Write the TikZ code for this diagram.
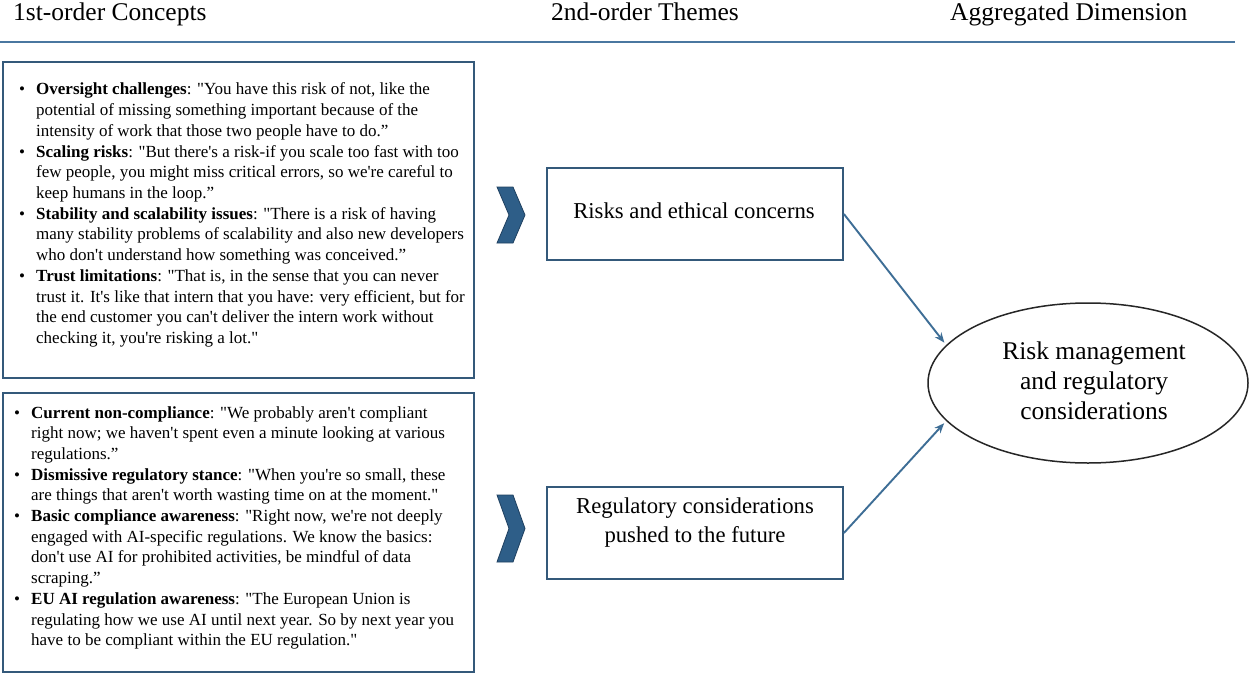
\documentclass[tikz,border=0pt]{standalone}
\usepackage{fontspec}
\newfontfamily\serif{Liberation Serif}
\usetikzlibrary{arrows.meta,shapes.geometric}

\definecolor{rulecol}{HTML}{4A77A0}
\definecolor{framecol}{HTML}{34597A}
\definecolor{chevcol}{HTML}{2E5E88}
\definecolor{chevedge}{HTML}{1F4060}
\definecolor{linkcol}{HTML}{3E6E96}

% one bulleted quote line, and a continuation line
\newcommand\bitem[2]{\makebox[17pt][l]{\textbullet}\textbf{#1}: #2}
\newcommand\cont[1]{\hspace*{17pt}#1}

\begin{document}
\begin{tikzpicture}[x=1pt,y=-1pt,
  hdr/.style={anchor=base west, inner sep=0, font=\serif\fontsize{25.5}{30}\selectfont},
  cbox/.style={draw=framecol, line width=1.8pt, rectangle, inner sep=0},
  quotes/.style={anchor=base west, inner sep=0, font=\serif\fontsize{17}{20.7}\selectfont},
  tbox/.style={draw=framecol, line width=1.8pt, rectangle, inner sep=0,
               minimum width=296pt, minimum height=92pt},
  ttxt/.style={anchor=base, inner sep=0, font=\serif\fontsize{22.7}{29}\selectfont},
  chevron/.style={fill=chevcol, draw=chevedge, line width=0.8pt, line join=miter},
  link/.style={draw=linkcol, line width=1.9pt, -{Stealth[length=10pt,width=8pt]}, shorten >=3pt}
]
\useasboundingbox (0,0) rectangle (1249,674);
\fill[white] (0,0) rectangle (1249,674);

% column headings and rule
\node[hdr] (h1) at (13,21) {1st-order Concepts};
\node[hdr] (h2) at (551,21) {2nd-order Themes};
\node[hdr] (h3) at (950,21) {Aggregated Dimension};
\draw[rulecol, line width=2pt] (0,42) -- (1235,42);

% first-order concept boxes
\node[cbox, minimum width=471pt, minimum height=316pt] (c1) at (238.5,220) {};
\node[cbox, minimum width=471pt, minimum height=279pt] (c2) at (238.5,532.5) {};

\node[quotes] (c1txt) at (19,95) {\parbox[t]{500pt}{\raggedright
\bitem{Oversight challenges}{"You have this risk of not, like the}\\
\cont{potential of missing something important because of the}\\
\cont{intensity of work that those two people have to do.”}\\
\bitem{Scaling risks}{"But there's a risk-if you scale too fast with too}\\
\cont{few people, you might miss critical errors, so we're careful to}\\
\cont{keep humans in the loop.”}\\
\bitem{Stability and scalability issues}{"There is a risk of having}\\
\cont{many stability problems of scalability and also new developers}\\
\cont{who don't understand how something was conceived.”}\\
\bitem{Trust limitations}{"That is, in the sense that you can never}\\
\cont{trust it. It's like that intern that you have: very efficient, but for}\\
\cont{the end customer you can't deliver the intern work without}\\
\cont{checking it, you're risking a lot."}}};

\node[quotes] (c2txt) at (14,418) {\parbox[t]{500pt}{\raggedright
\bitem{Current non-compliance}{"We probably aren't compliant}\\
\cont{right now; we haven't spent even a minute looking at various}\\
\cont{regulations.”}\\
\bitem{Dismissive regulatory stance}{"When you're so small, these}\\
\cont{are things that aren't worth wasting time on at the moment."}\\
\bitem{Basic compliance awareness}{"Right now, we're not deeply}\\
\cont{engaged with AI-specific regulations. We know the basics:}\\
\cont{don't use AI for prohibited activities, be mindful of data}\\
\cont{scraping.”}\\
\bitem{EU AI regulation awareness}{"The European Union is}\\
\cont{regulating how we use AI until next year. So by next year you}\\
\cont{have to be compliant within the EU regulation."}}};

% chevrons leading into the themes
\path[chevron] (497,187) -- (513,187) -- (525,215) -- (513,243) -- (497,243) -- (509,215) -- cycle;
\path[chevron] (497,495) -- (513,495) -- (525,528.5) -- (513,562) -- (497,562) -- (509,528.5) -- cycle;

% second-order themes
\node[tbox] (t1) at (695,214) {};
\node[tbox] (t2) at (695,533) {};
\node[ttxt] (t1txt) at (694,218) {Risks and ethical concerns};
\node[ttxt] (t2txt) at (695,513) {\begin{tabular}[t]{@{}c@{}}Regulatory considerations\\pushed to the future\end{tabular}};

% aggregated dimension
\node[ellipse, draw=black!85, line width=1.5pt, minimum width=320pt, minimum height=160pt,
      inner sep=0, font=\serif\fontsize{25.5}{30}\selectfont] (agg) at (1088,383)
  {\begin{tabular}{@{\hspace{12pt}}c@{}}Risk management\\and regulatory\\considerations\end{tabular}};

\draw[link] (t1.east) -- (agg.165);
\draw[link] (t2.east) -- (agg.195);
\end{tikzpicture}
\end{document}
